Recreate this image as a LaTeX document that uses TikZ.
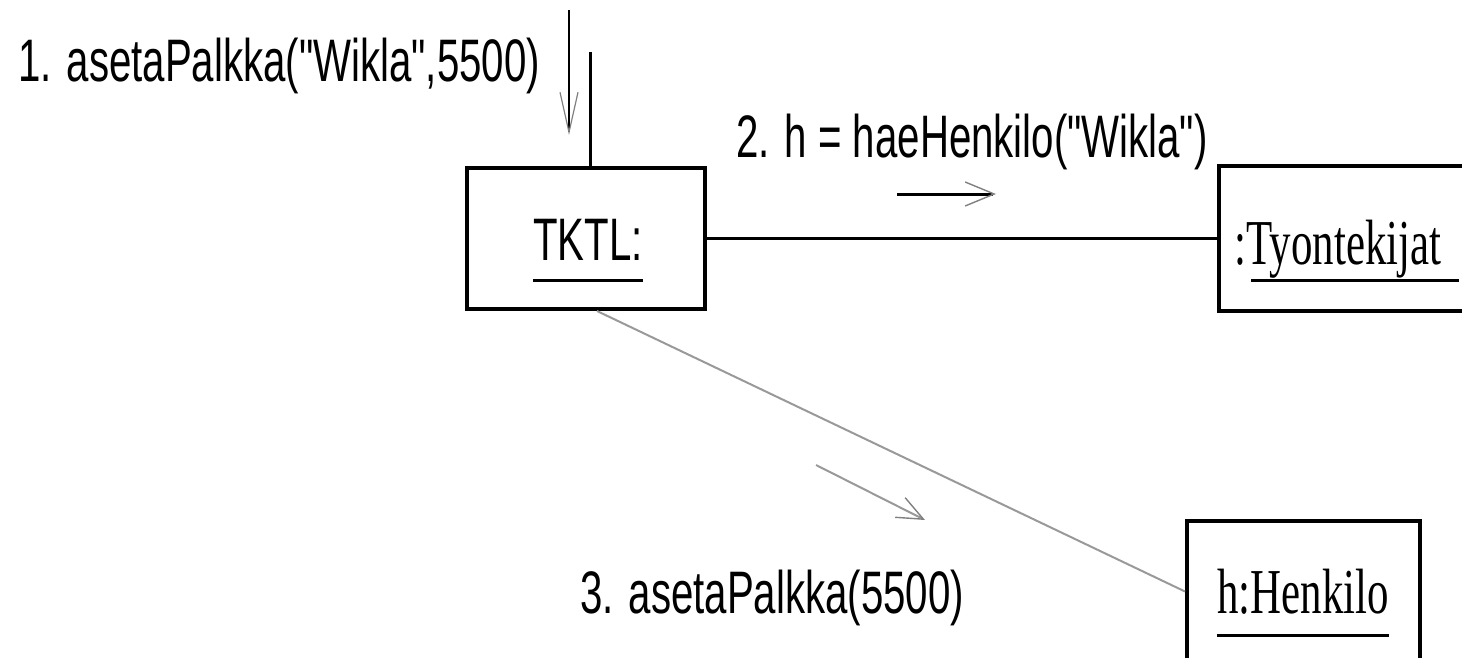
\documentclass[tikz,border=0pt]{standalone}
\usepackage{fontspec}
\setmainfont{Liberation Serif}
\newfontfamily\labfont[FakeStretch=0.67]{Liberation Sans}
\newfontfamily\objfont[FakeStretch=0.67]{Liberation Serif}
\usetikzlibrary{arrows.meta}

\tikzset{
  objbox/.style={draw, rectangle, line width=2pt, minimum height=70.5pt},
  lab/.style={font=\labfont\fontsize{30}{36}\selectfont},
  obj/.style={font=\objfont\fontsize{32}{38}\selectfont},
  uline/.style={line width=1.5pt},
  link/.style={line width=1.5pt},
  graylink/.style={line width=1pt, draw=gray!80},
  msg/.style={line width=1.2pt},
}

\begin{document}
\begin{tikzpicture}[x=0.5pt,y=-0.5pt]

        \useasboundingbox (0,0) rectangle (1462,658);
        \clip (0,0) rectangle (1462,658);

        \begin{scope}[every node/.style={objbox}]
          \node[minimum width=119pt]   (tktl) at (586,238.5)  {};
          \node[minimum width=150pt, draw=none] (tyo) at (1371,238.5) {};
          \node[minimum width=116.5pt] (henk) at (1303.5,591.5) {};
        \end{scope}
        % the right side of this box is cut off by the picture edge
        \draw[line width=2pt] (tyo.north east) -- (tyo.north west) -- (tyo.south west) -- (tyo.south east);

        \begin{scope}[every node/.style={inner sep=0pt, anchor=base}]
          \node[lab] (tktlname) at (588,260)  {TKTL:};
          \node[obj] (tyoname)  at (1338,264) {:Tyontekijat};
          \node[obj] (henkname) at (1303,613) {h:Henkilo};
          \node[lab, anchor=base west] (msg1) at (18,82)   {1. asetaPalkka("Wikla",5500)};
          \node[lab, anchor=base west] (msg2) at (736,157) {2. h = haeHenkilo("Wikla")};
          \node[lab, anchor=base west] (msg3) at (580,613) {3. asetaPalkka(5500)};
        \end{scope}

        % underlined object names
        \draw[uline] ([yshift=-10pt]tktlname.base west) -- ([yshift=-10pt]tktlname.base east);
        \draw[uline] ([xshift=8.5pt,yshift=-8pt]tyoname.base west) -- ([xshift=8.5pt,yshift=-8pt]tyoname.base east);
        \draw[uline] ([yshift=-11pt]henkname.base west) -- ([yshift=-11pt]henkname.base east);

        % links
        \coordinate (in) at (590,52);
        \draw[link] (in) -- (in |- tktl.north);
        \draw[link] (tktl.east) -- (tyo.west);
        \draw[graylink] ([xshift=5.5pt]tktl.south) -- (henk.west);

        % messages
        \coordinate (m1a) at (569,10);
        \coordinate (m1b) at (569,135);
        \coordinate (m2a) at (897,194);
        \coordinate (m2b) at (996,194);
        \coordinate (m3a) at (816,465);
        \coordinate (m3b) at (925,520);
        \draw[msg, -{Straight Barb[length=20pt,width=9pt,line width=0.6pt,color=gray]}] (m1a) -- (m1b);
        \draw[msg, line width=1.5pt, -{Straight Barb[length=14.5pt,width=12pt,line width=0.7pt,color=gray]}] (m2a) -- (m2b);
        \draw[graylink, -{Straight Barb[length=13pt,width=11pt,line width=0.7pt,color=gray]}] (m3a) -- (m3b);

      \end{tikzpicture}
\end{document}
